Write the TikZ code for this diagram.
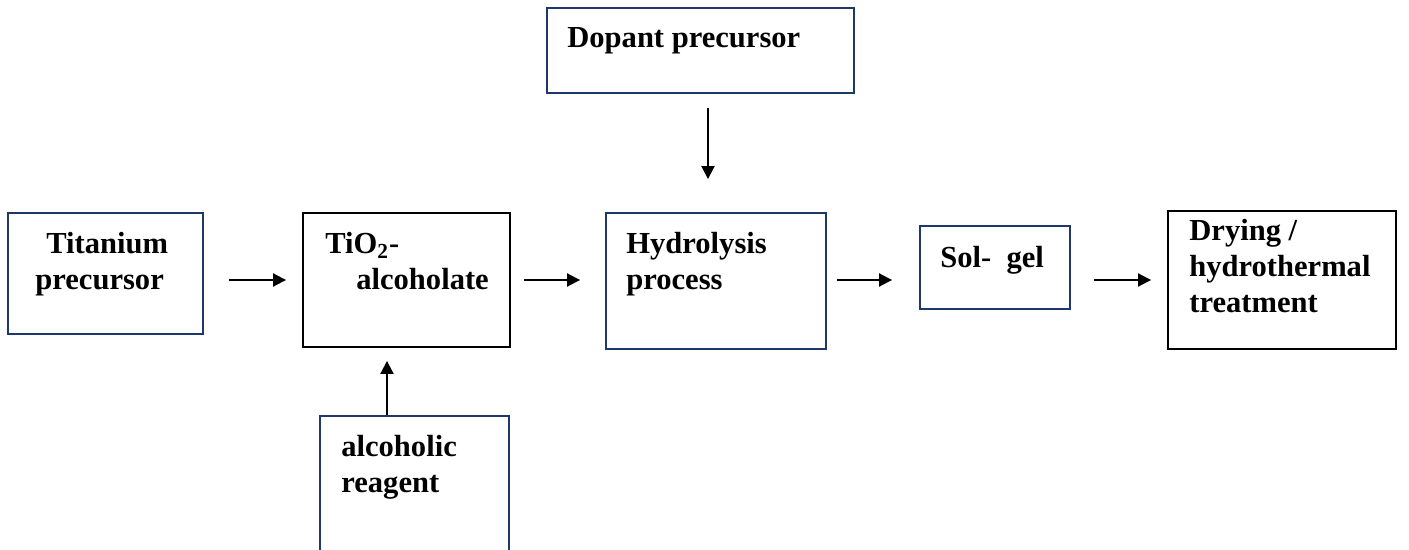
\documentclass[tikz,border=0pt]{standalone}
\usepackage{fontspec}
\setmainfont{Liberation Serif}
\usetikzlibrary{positioning, arrows.meta}

\definecolor{navy}{RGB}{31,56,108}

\begin{document}
\begin{tikzpicture}[
  x=0.02cm, y=-0.02cm,
  box/.style={draw=navy, line width=1.1pt, rectangle, inner sep=0pt},
  blackbox/.style={draw=black, line width=1.1pt, rectangle, inner sep=0pt},
  txt/.style={anchor=north west, inner sep=0pt, align=left,
    font=\fontsize{17.4pt}{20.5pt}\selectfont\bfseries},
  arrow/.style={-{Triangle[length=0.26cm, width=0.26cm]}, line width=1.1pt}
]

\useasboundingbox (0,0) rectangle (1409,550);
\clip (0,0) rectangle (1409,550);

% Boxes of the process
\node[box, minimum width=3.9cm, minimum height=2.42cm] (ti) at (105.5,273.5) {};
\node[blackbox, minimum width=4.14cm, minimum height=2.68cm] (alc) at (406.5,280) {};
\node[box, minimum width=6.14cm, minimum height=1.7cm] (dop) at (700.5,50.5) {};
\node[box, minimum width=4.4cm, minimum height=2.72cm] (hyd) at (716,281) {};
\node[box, minimum width=3cm, minimum height=1.66cm] (sol) at (995,267.5) {};
\node[blackbox, minimum width=4.56cm, minimum height=2.76cm] (dry) at (1282,280) {};
\node[box, minimum width=3.78cm, minimum height=2.98cm] (reag) at (414.5,490.5) {};

% Texts in the boxes
\node[txt] (ti-t) at (35,232) {\hspace*{0.22cm}Titanium\\precursor};
\node[txt] (alc-t) at (325,232) {TiO\textsubscript{2}-\\\hspace*{0.62cm}alcoholate};
\node[txt] (dop-t) at (567,27) {Dopant precursor};
\node[txt] (hyd-t) at (626,232) {Hydrolysis\\process};
\node[txt] (sol-t) at (940,246) {Sol-\ \ gel};
\node[txt] (dry-t) at (1189,219) {Drying /\\hydrothermal\\treatment};
\node[txt] (reag-t) at (341,435) {alcoholic\\reagent};

% Arrows
\coordinate (flow) at (0,280);
\coordinate (dopx) at (708,0);
\coordinate (reagx) at (387,0);

\draw[arrow, shorten <=0.5cm, shorten >=0.32cm] (ti.east |- flow) -- (alc.west |- flow);
\draw[arrow, shorten <=0.26cm, shorten >=0.5cm] (alc.east |- flow) -- (hyd.west |- flow);
\draw[arrow, shorten <=0.2cm, shorten >=0.54cm] (hyd.east |- flow) -- (sol.west |- flow);
\draw[arrow, shorten <=0.46cm, shorten >=0.32cm] (sol.east |- flow) -- (dry.west |- flow);
\draw[arrow, shorten <=0.28cm, shorten >=0.66cm] (dop.south -| dopx) -- (hyd.north -| dopx);
\draw[arrow, shorten >=0.26cm] (reag.north -| reagx) -- (alc.south -| reagx);

\end{tikzpicture}
\end{document}
